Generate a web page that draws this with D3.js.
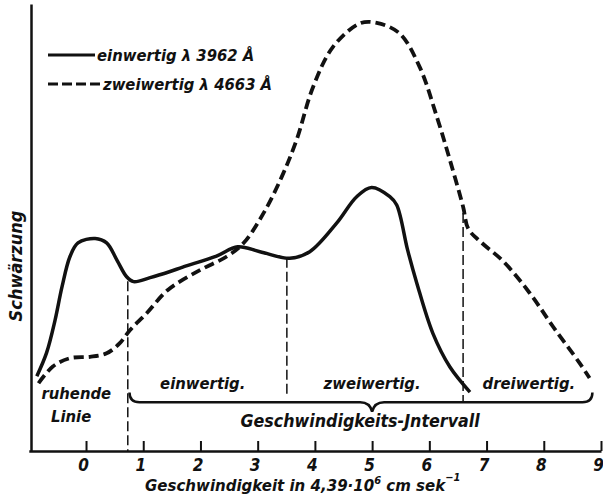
<!DOCTYPE html>
<html>
<head>
<meta charset="utf-8">
<script src="https://cdn.jsdelivr.net/npm/d3@7"></script>
<style>
  body { margin: 0; background: #fff; }
  text { font-family: "DejaVu Sans Condensed", "DejaVu Sans", sans-serif; font-weight: bold; font-style: italic; fill: #111; }
</style>
</head>
<body>
<main></main>
<script>
// einwertig (λ 3962 Å), solid curve
const einX = [-0.86, -0.69, -0.54, -0.42, -0.28, -0.14, 0.16, 0.36, 0.54, 0.71, 0.83, 1.12, 1.47, 1.69, 2.28, 2.65, 3.04, 3.56, 3.91, 4.38, 4.73, 4.99, 5.31, 5.43, 5.62, 5.78, 6.06, 6.36, 6.71]
const einY = [17.0, 22.3, 29.8, 37.3, 44.2, 47.3, 48.3, 47.3, 43.4, 39.6, 38.5, 39.4, 40.8, 41.8, 44.3, 46.4, 45.3, 43.8, 45.3, 51.8, 57.8, 59.9, 57.8, 55.9, 45.7, 38.2, 26.8, 19.1, 13.4]

// zweiwertig (λ 4663 Å), dashed curve
const zweiX = [-0.83, -0.58, -0.28, 0.07, 0.36, 0.59, 0.77, 1.06, 1.43, 1.99, 2.46, 2.75, 3.1, 3.42, 3.68, 3.97, 4.32, 4.79, 5.08, 5.48, 5.83, 6.13, 6.36, 6.59, 6.68, 6.9, 7.3, 7.76, 8.16, 8.63, 8.8]
const zweiY = [15.4, 19.2, 21.1, 21.4, 22.2, 24.5, 27.5, 31.3, 36.6, 41.1, 44.2, 47.2, 54.0, 62.3, 70.7, 82.8, 91.9, 97.2, 97.3, 94.9, 87.3, 76.0, 66.1, 55.5, 50.5, 47.5, 43.0, 35.8, 28.3, 19.9, 16.6]

// interval borders (dashed verticals)
const borderX = [0.73, 3.51, 6.59]
const borderTop = [38.6, 43.9, 54.1]
const borderBottom = [0, 12.7, 10.9]

const regionNames = ["einwertig.", "zweiwertig.", "dreiwertig."]
const regionX = [2.04, 5.0, 7.74]

const xTicks = [0, 1, 2, 3, 4, 5, 6, 7, 8, 9]

const width = 603
const height = 499

let svg = d3.select("main")
    .append("svg")
    .attr("width", width)
    .attr("height", height)

let x = d3.scaleLinear()
    .domain([-1, 9])
    .range([28.8, 601])

let y = d3.scaleLinear()
    .domain([0, 100])
    .range([451, 11])

// x axis, ticks pointing up into the plot
let xAxis = svg.append("g")
    .attr("transform", `translate(0, ${y(0)})`)
    .call(d3.axisBottom(x).tickValues(xTicks).tickSize(-10).tickSizeOuter(0).tickPadding(8))
xAxis.select(".domain").attr("stroke", "#111").attr("stroke-width", 2.5)
xAxis.selectAll(".tick line").attr("stroke", "#111").attr("stroke-width", 2)
xAxis.selectAll(".tick text")
    .attr("font-size", 17)
    .attr("font-family", "DejaVu Sans Condensed")
    .attr("dx", "-3")
    .attr("fill", "#111")

// y axis, no ticks
let yTop = y.copy().domain([0, y.invert(4)]).range([451, 4])
let yAxis = svg.append("g")
    .attr("transform", `translate(31, 0)`)
    .call(d3.axisLeft(yTop).tickValues([]).tickSizeOuter(0))
yAxis.select(".domain").attr("stroke", "#111").attr("stroke-width", 2.5)

// dashed interval borders
svg.append("g")
    .selectAll("line")
    .data(borderX)
    .enter()
    .append("line")
    .attr("x1", d => x(d))
    .attr("x2", d => x(d))
    .attr("y1", (d, i) => y(borderTop[i]))
    .attr("y2", (d, i) => y(borderBottom[i]))
    .attr("stroke", "#111")
    .attr("stroke-width", 1.5)
    .attr("stroke-dasharray", "10,4")

let line = d3.line()
    .x(d => x(d[0]))
    .y(d => y(d[1]))
    .curve(d3.curveCatmullRom.alpha(0.5))

svg.append("path")
    .datum(einX.map((v, i) => [v, einY[i]]))
    .attr("d", line)
    .attr("fill", "none")
    .attr("stroke", "#111")
    .attr("stroke-width", 3.5)

svg.append("path")
    .datum(zweiX.map((v, i) => [v, zweiY[i]]))
    .attr("d", line)
    .attr("fill", "none")
    .attr("stroke", "#111")
    .attr("stroke-width", 3.8)
    .attr("stroke-dasharray", "10,5")

// curly brace under the three regions
let bL = x(0.76), bR = x(8.85), bM = x(5.0)
let bY = y(11.1), bTip = y(8.9), bEnd = y(13.3)
svg.append("path")
    .attr("d", `M${bL},${bEnd} Q${bL},${bY} ${bL + 10},${bY} L${bM - 12},${bY} Q${bM - 2},${bY} ${bM},${bTip} Q${bM + 2},${bY} ${bM + 12},${bY} L${bR - 10},${bY} Q${bR},${bY} ${bR},${bEnd}`)
    .attr("fill", "none")
    .attr("stroke", "#111")
    .attr("stroke-width", 2.5)

svg.append("g")
    .selectAll("text")
    .data(regionNames)
    .enter()
    .append("text")
    .attr("x", (d, i) => x(regionX[i]))
    .attr("y", y(14.1))
    .attr("text-anchor", "middle")
    .attr("font-size", 16.5)
    .text(d => d)

svg.append("text")
    .attr("x", x(4.79))
    .attr("y", y(5.45))
    .attr("text-anchor", "middle")
    .attr("font-size", 17.7)
    .text("Geschwindigkeits-Jntervall")

svg.append("text")
    .attr("x", x(-0.17))
    .attr("y", y(11.8))
    .attr("text-anchor", "middle")
    .attr("font-size", 16.5)
    .text("ruhende")

svg.append("text")
    .attr("x", x(-0.26))
    .attr("y", y(6.6))
    .attr("text-anchor", "middle")
    .attr("font-size", 16.5)
    .text("Linie")

// axis titles
let xt = svg.append("text")
    .attr("x", 145)
    .attr("y", 491)
    .attr("font-size", 16.7)
xt.append("tspan").text("Geschwindigkeit in 4,39·10")
xt.append("tspan").attr("dy", -7).attr("font-size", 11).text("6")
xt.append("tspan").attr("dy", 7).text(" cm sek")
xt.append("tspan").attr("dy", -10).attr("font-size", 11).text("−1")

svg.append("text")
    .attr("transform", "translate(22, 266) rotate(-90)")
    .attr("text-anchor", "middle")
    .attr("font-size", 18)
    .text("Schwärzung")

// legend
let legend = svg.append("g")
legend.append("line")
    .attr("x1", 48).attr("x2", 95).attr("y1", 55).attr("y2", 55)
    .attr("stroke", "#111").attr("stroke-width", 3)
legend.append("text")
    .attr("x", 97).attr("y", 61)
    .attr("font-size", 16.5)
    .text("einwertig λ 3962 Å")
legend.append("line")
    .attr("x1", 48).attr("x2", 102).attr("y1", 84).attr("y2", 84)
    .attr("stroke", "#111").attr("stroke-width", 3)
    .attr("stroke-dasharray", "10,4")
legend.append("text")
    .attr("x", 103).attr("y", 90)
    .attr("font-size", 16.5)
    .text("zweiwertig λ 4663 Å")
</script>
</body>
</html>
